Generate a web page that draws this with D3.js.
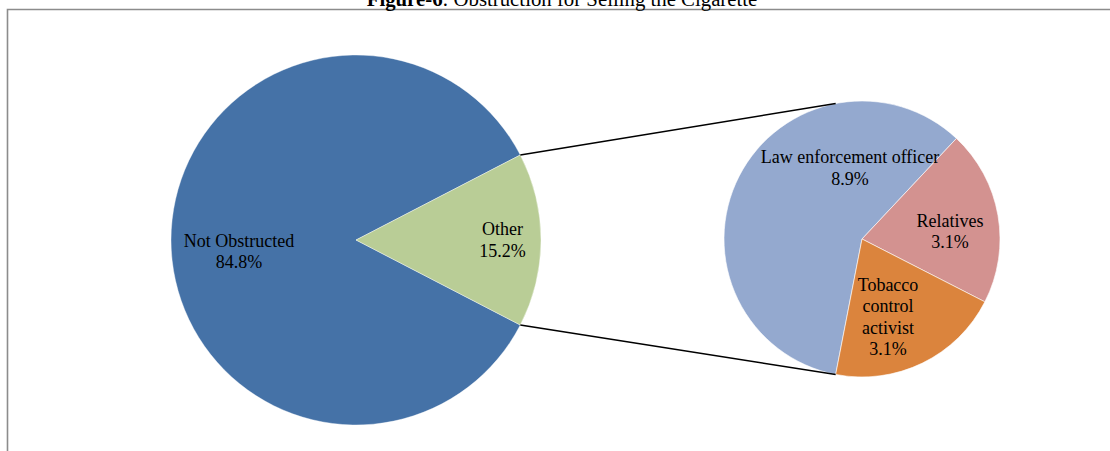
<!DOCTYPE html>
<html>
<head>
<meta charset="utf-8">
<script src="https://cdn.jsdelivr.net/npm/d3@7"></script>
<style>
  html, body { margin: 0; padding: 0; background: #fff; }
  svg { display: block; font-family: "Liberation Serif", "Times New Roman", serif; }
</style>
</head>
<body>
<svg id="chart" width="1110" height="451"></svg>
<script>
// ---- data ----
const mainCategories = ["Not Obstructed", "Other"];
const mainValues = [84.8, 15.2];
const subCategories = ["Law enforcement officer", "Relatives", "Tobacco control activist"];
const subValues = [8.9, 3.1, 3.1];
const titleBold = "Figure-6";
const titleRest = ": Obstruction for Selling the Cigarette";

// ---- styles / layout ----
const mainColors = ["#4572A7", "#B9CD96"];
const subColors = ["#94A9CF", "#D39290", "#DB843D"];
const mainCenter = [356, 240], mainR = 185;
const subCenter = [862, 239], subR = 138;
const subStartDeg = 191;
const fontSize = 18, lineH = 21.5;
// label block centre offsets (px) from pie centre, and line wrapping
const mainLabelPos = [
  { dx: -117, dy: 11.3, lines: ["Not Obstructed"] },
  { dx: 146.5, dy: 0.2, lines: ["Other"] }
];
const subLabelPos = [
  { dx: -12, dy: -71, lines: ["Law enforcement officer"] },
  { dx: 88, dy: -7.4, lines: ["Relatives"] },
  { dx: 26, dy: 77.9, lines: ["Tobacco", "control", "activist"] }
];

const svg = d3.select("#chart");

// frame
svg.append("path")
  .attr("d", "M7.5,460 L7.5,9.5 L1120,9.5")
  .attr("fill", "none").attr("stroke", "#8c8c8c").attr("stroke-width", 1.6);

// title
const title = svg.append("text")
  .attr("x", 562).attr("y", 5.5)
  .attr("text-anchor", "middle")
  .attr("font-size", 20.8)
  .attr("fill", "#000");
title.append("tspan").attr("font-weight", "bold").text(titleBold);
title.append("tspan").text(titleRest);

const fmt = v => v.toFixed(1) + "%";

// main pie
const mainTotal = d3.sum(mainValues);
const otherAngle = 2 * Math.PI * mainValues[1] / mainTotal;
const mainStart = Math.PI / 2 + otherAngle / 2;
const mainPie = d3.pie().sort(null).startAngle(mainStart).endAngle(mainStart + 2 * Math.PI);
const mainArcs = mainPie(mainValues);
const mainArc = d3.arc().innerRadius(0).outerRadius(mainR);

const gMain = svg.append("g").attr("transform", `translate(${mainCenter[0]},${mainCenter[1]})`);
gMain.selectAll("path").data(mainArcs).join("path")
  .attr("d", mainArc)
  .attr("fill", (d, i) => mainColors[i])
  .attr("stroke", "#fff").attr("stroke-width", 0.4);

// sub pie
const subPie = d3.pie().sort(null)
  .startAngle(subStartDeg * Math.PI / 180)
  .endAngle(subStartDeg * Math.PI / 180 + 2 * Math.PI);
const subArcs = subPie(subValues);
const subArc = d3.arc().innerRadius(0).outerRadius(subR);
const gSub = svg.append("g").attr("transform", `translate(${subCenter[0]},${subCenter[1]})`);
gSub.selectAll("path").data(subArcs).join("path")
  .attr("d", subArc)
  .attr("fill", (d, i) => subColors[i])
  .attr("stroke", "#fff").attr("stroke-width", 0.6);

// connector lines
const pt = (c, r, a) => [c[0] + r * Math.sin(a), c[1] - r * Math.cos(a)];
const otherArc = mainArcs[1];
const subA = subStartDeg * Math.PI / 180;
const lines = [
  [pt(mainCenter, mainR, otherArc.startAngle), pt(subCenter, subR, Math.PI - subA)],
  [pt(mainCenter, mainR, otherArc.endAngle), pt(subCenter, subR, subA)]
];
svg.selectAll("line.conn").data(lines).join("line")
  .attr("class", "conn")
  .attr("x1", d => d[0][0]).attr("y1", d => d[0][1])
  .attr("x2", d => d[1][0]).attr("y2", d => d[1][1])
  .attr("stroke", "#000").attr("stroke-width", 1.5);

// labels
function drawLabel(g, pos, value) {
  const all = pos.lines.concat([fmt(value)]);
  const n = all.length;
  const t = g.append("text")
    .attr("text-anchor", "middle")
    .attr("font-size", fontSize)
    .attr("fill", "#000");
  all.forEach((s, i) => {
    t.append("tspan")
      .attr("x", pos.dx)
      .attr("y", pos.dy + (i - (n - 1) / 2) * lineH + fontSize * 0.33)
      .text(s);
  });
}
mainValues.forEach((v, i) => drawLabel(gMain, mainLabelPos[i], v));
subValues.forEach((v, i) => drawLabel(gSub, subLabelPos[i], v));
</script>
</body>
</html>
